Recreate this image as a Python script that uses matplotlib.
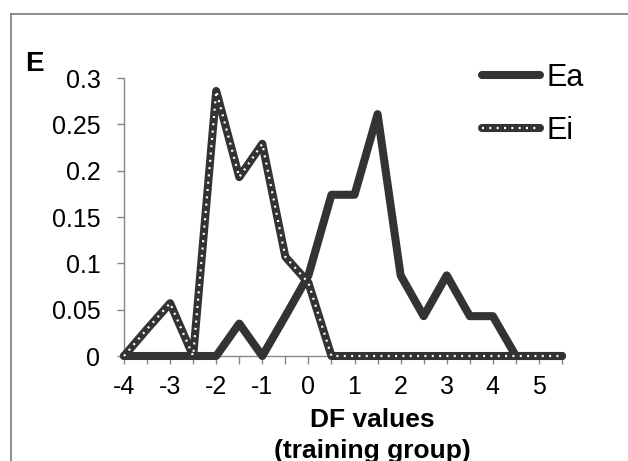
import matplotlib.pyplot as plt
from matplotlib.lines import Line2D
from matplotlib.legend_handler import HandlerTuple

plt.rcParams['font.family'] = ['Liberation Sans', 'DejaVu Sans']

# valores DF (grupo de entrenamiento), pasos de 0.5
df_vals = [-4, -3.5, -3, -2.5, -2, -1.5, -1, -0.5, 0, 0.5,
           1, 1.5, 2, 2.5, 3, 3.5, 4, 4.5, 5, 5.5]
ea = [0, 0, 0, 0, 0, 0.035, 0, 0.043, 0.087, 0.174,
      0.174, 0.261, 0.087, 0.043, 0.087, 0.043, 0.043, 0, 0, 0]
ei = [0, 0.029, 0.057, 0, 0.286, 0.193, 0.229, 0.107, 0.079, 0,
      0, 0, 0, 0, 0, 0, 0, 0, 0, 0]
yticks = [0, 0.05, 0.1, 0.15, 0.2, 0.25, 0.3]
ytick_labels = ['0', '0.05', '0.1', '0.15', '0.2', '0.25', '0.3']

dark = '#333333'
axis_col = '#868686'
dot_style = (0, (0.9, 2.4))

fig = plt.figure(figsize=(6.28, 4.61), dpi=100)
ax = fig.add_axes([124 / 628, 1 - 356 / 461, 438 / 628, 278 / 461])

ax.plot(df_vals, ea, color=dark, lw=5.8, solid_joinstyle='round',
        solid_capstyle='round', clip_on=False, zorder=3)
ax.plot(df_vals, ei, color=dark, lw=5.8, solid_joinstyle='round',
        solid_capstyle='round', clip_on=False, zorder=4)
ax.plot(df_vals, ei, color='white', lw=1.6, linestyle=dot_style,
        dash_capstyle='butt', clip_on=False, zorder=5)

ax.set_xlim(-4, 5.5)
ax.set_ylim(0, 0.3)
ax.set_xticks(df_vals)
ax.set_xticklabels([str(v) if float(v).is_integer() else '' for v in df_vals])
ax.set_yticks(yticks)
ax.set_yticklabels(ytick_labels)

for s in ['top', 'right']:
    ax.spines[s].set_visible(False)
for s in ['left', 'bottom']:
    ax.spines[s].set_color(axis_col)
    ax.spines[s].set_linewidth(1)

ax.tick_params(axis='x', direction='out', length=6, width=1, color=axis_col,
               labelsize=18, pad=8)
ax.tick_params(axis='y', direction='out', length=5, width=1, color=axis_col,
               labelsize=18, pad=12)

# titulos de los ejes
fig.text(372 / 628, 1 - 420 / 461, 'DF values', ha='center', va='center',
         fontsize=19, fontweight='bold')
fig.text(372 / 628, 1 - 451 / 461, '(training group)', ha='center', va='center',
         fontsize=19, fontweight='bold')
fig.text(25 / 628, 1 - 64 / 461, 'E', ha='left', va='center',
         fontsize=20, fontweight='bold')

# leyenda con artistas proxy
h_ea = Line2D([], [], color=dark, lw=5.8, solid_capstyle='round')
h_ei_base = Line2D([], [], color=dark, lw=5.8, solid_capstyle='round')
h_ei_dots = Line2D([], [], color='white', lw=1.6, linestyle=dot_style,
                   dash_capstyle='butt')
leg = ax.legend([h_ea, (h_ei_base, h_ei_dots)], ['Ea', 'Ei'],
                handler_map={tuple: HandlerTuple(ndivide=1, pad=0)},
                loc='upper left', bbox_to_anchor=(482 / 628, 1 - 63 / 461),
                bbox_transform=fig.transFigure, frameon=False, fontsize=22,
                handlelength=1.9, handletextpad=0.2, labelspacing=0.75,
                borderpad=0, borderaxespad=0)

# borde del grafico
fig.add_artist(Line2D([11 / 628, 11 / 628], [0, 1 - 14 / 461],
                      transform=fig.transFigure, color='#7a7a7a', lw=1.2))
fig.add_artist(Line2D([11 / 628, 1], [1 - 14 / 461, 1 - 14 / 461],
                      transform=fig.transFigure, color='#7a7a7a', lw=1.2))

fig.savefig('out.png', dpi=100)
